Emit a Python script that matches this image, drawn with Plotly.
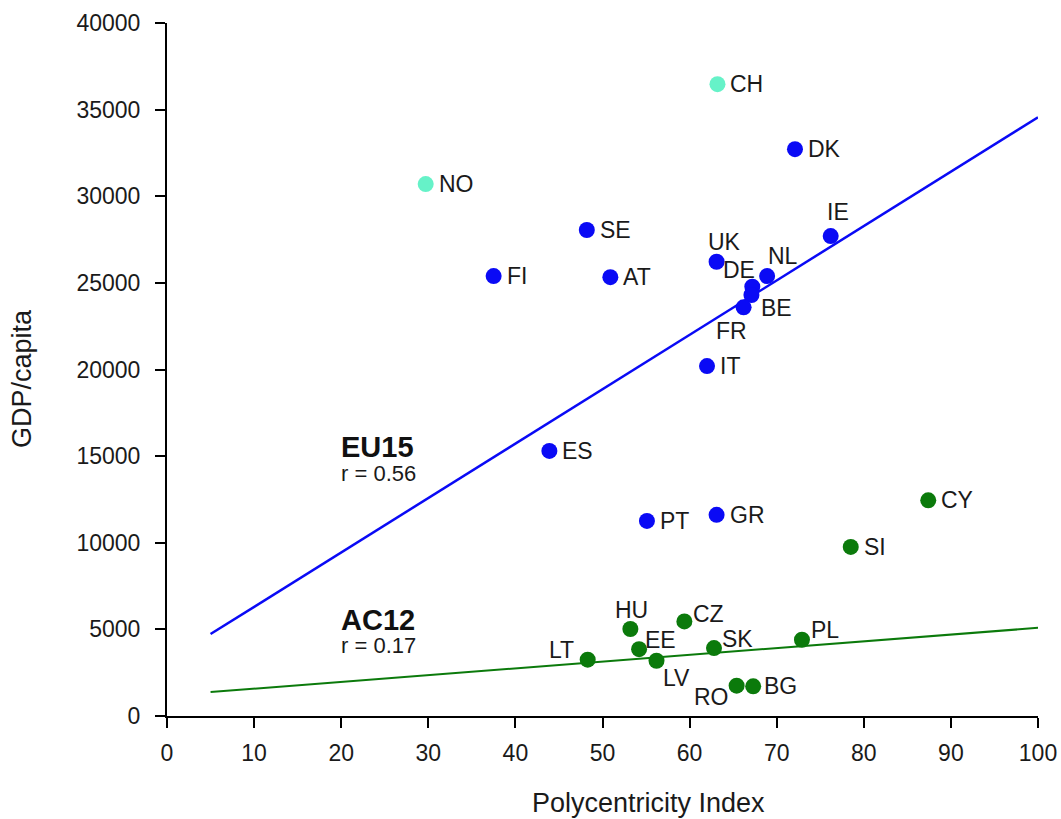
import plotly.graph_objects as go

# ---------------- data ----------------
other_codes = ["NO", "CH"]
other_pci = [29.7, 63.2]
other_gdp = [30700, 36470]

eu15_codes = ["DK", "SE", "IE", "UK", "NL", "FI", "AT", "DE", "BE", "FR", "IT", "ES", "PT", "GR"]
eu15_pci = [72.1, 48.2, 76.2, 63.1, 68.9, 37.5, 50.9, 67.2, 67.1, 66.2, 62.0, 43.9, 55.1, 63.1]
eu15_gdp = [32720, 28050, 27700, 26220, 25390, 25390, 25330, 24780, 24300, 23590, 20200, 15300, 11260, 11610]

ac12_codes = ["CY", "SI", "LT", "HU", "EE", "CZ", "LV", "SK", "PL", "RO", "BG"]
ac12_pci = [87.4, 78.5, 48.3, 53.2, 54.2, 59.4, 56.2, 62.8, 72.9, 65.4, 67.3]
ac12_gdp = [12450, 9760, 3250, 5020, 3860, 5460, 3190, 3920, 4400, 1750, 1710]

trend_x = [5, 100]
eu15_trend = [4730, 34560]
ac12_trend = [1380, 5090]

x_ticks = list(range(0, 101, 10))
y_ticks = list(range(0, 40001, 5000))
y_ticktext = [str(v) for v in y_ticks]

# ---------------- styles ----------------
C_OTHER = "#66F2C8"
C_EU = "#0A0AF5"
C_AC = "#0B7A0B"
FONT = "Liberation Sans, Arial, sans-serif"
TXT = "#1a1a1a"

# label placement: (xanchor, xshift, yshift) in pixels
label_pos = {
    "NO": ("left", 11, 0), "CH": ("left", 11, 0), "DK": ("left", 11, 0),
    "SE": ("left", 11, 0), "IE": ("center", 7, 24), "UK": ("center", 8, 20),
    "NL": ("center", 16, 20), "FI": ("left", 11, 0), "AT": ("left", 11, 0),
    "DE": ("center", -13, 17), "BE": ("center", 25, -13), "FR": ("center", -12, -24),
    "IT": ("left", 11, 0), "ES": ("left", 11, 0), "PT": ("left", 11, 0),
    "GR": ("left", 11, 0), "CY": ("left", 11, 0), "SI": ("left", 11, 0),
    "LT": ("center", -26, 10), "HU": ("center", 1, 19), "EE": ("center", 21, 9),
    "CZ": ("center", 24, 7), "LV": ("center", 20, -17), "SK": ("center", 24, 9),
    "PL": ("center", 23, 10), "RO": ("center", -25, -11), "BG": ("center", 27, 0),
}

fig = go.Figure()

fig.add_trace(go.Scatter(x=trend_x, y=eu15_trend, mode="lines",
                         line=dict(color=C_EU, width=2.5), showlegend=False, hoverinfo="skip"))
fig.add_trace(go.Scatter(x=trend_x, y=ac12_trend, mode="lines",
                         line=dict(color=C_AC, width=2), showlegend=False, hoverinfo="skip"))

for codes, xs, ys, col in [(other_codes, other_pci, other_gdp, C_OTHER),
                           (eu15_codes, eu15_pci, eu15_gdp, C_EU),
                           (ac12_codes, ac12_pci, ac12_gdp, C_AC)]:
    fig.add_trace(go.Scatter(x=xs, y=ys, mode="markers", text=codes,
                             marker=dict(color=col, size=16, line=dict(width=0)),
                             showlegend=False))

annotations = []
for codes, xs, ys in [(other_codes, other_pci, other_gdp),
                      (eu15_codes, eu15_pci, eu15_gdp),
                      (ac12_codes, ac12_pci, ac12_gdp)]:
    for c, xv, yv in zip(codes, xs, ys):
        xa, dx, dy = label_pos[c]
        annotations.append(dict(x=xv, y=yv, xref="x", yref="y", text=c, showarrow=False,
                                xanchor=xa, yanchor="middle", xshift=dx, yshift=dy,
                                font=dict(family=FONT, size=23, color=TXT)))

# group labels
annotations += [
    dict(x=19.8, y=15550, xref="x", yref="y", text="<b>EU15</b>", showarrow=False,
         xanchor="left", yanchor="middle", font=dict(family=FONT, size=29, color="#111")),
    dict(x=19.8, y=14000, xref="x", yref="y", text="r = 0.56", showarrow=False,
         xanchor="left", yanchor="middle", font=dict(family=FONT, size=22, color=TXT)),
    dict(x=19.8, y=5520, xref="x", yref="y", text="<b>AC12</b>", showarrow=False,
         xanchor="left", yanchor="middle", font=dict(family=FONT, size=29, color="#111")),
    dict(x=19.8, y=4080, xref="x", yref="y", text="r = 0.17", showarrow=False,
         xanchor="left", yanchor="middle", font=dict(family=FONT, size=22, color=TXT)),
    # axis titles (pixel positions converted below)
    dict(x=22, y=379, xref="paper", yref="paper", text="GDP/capita", showarrow=False,
         textangle=-90, xanchor="center", yanchor="middle",
         font=dict(family=FONT, size=27, color=TXT)),
    dict(x=648, y=803, xref="paper", yref="paper", text="Polycentricity Index", showarrow=False,
         xanchor="center", yanchor="middle",
         font=dict(family=FONT, size=27, color=TXT)),
]

W, H = 1061, 819
ML, MR, MT, MB = 167, 23, 23, 103
pw, ph = W - ML - MR, H - MT - MB
for a in annotations[-2:]:
    a["x"] = (a["x"] - ML) / pw
    a["y"] = (H - MB - a["y"]) / ph

fig.update_layout(
    width=W, height=H, autosize=False,
    margin=dict(l=ML, r=MR, t=MT, b=MB, pad=0, autoexpand=False),
    plot_bgcolor="white", paper_bgcolor="white",
    font=dict(family=FONT, color=TXT),
    annotations=annotations,
    shapes=[dict(type="line", xref="paper", yref="paper", x0=-11 / pw, x1=0, y0=0, y1=0,
                 line=dict(color="black", width=2))],
    xaxis=dict(range=[0, 100], tickvals=x_ticks, showgrid=False, zeroline=False,
               showline=True, linecolor="black", linewidth=2, automargin=False,
               ticks="outside", ticklen=10, tickwidth=2, tickcolor="black",
               ticklabeloverflow="allow",
               tickfont=dict(family=FONT, size=23, color=TXT), ticklabelstandoff=5),
    yaxis=dict(range=[0, 40000], tickvals=y_ticks, ticktext=y_ticktext,
               showgrid=False, zeroline=False, automargin=False,
               showline=True, linecolor="black", linewidth=2,
               ticks="outside", ticklen=10, tickwidth=2, tickcolor="black",
               tickfont=dict(family=FONT, size=23, color=TXT), ticklabelstandoff=10),
)

fig.write_html("out.html", config={"responsive": False})
